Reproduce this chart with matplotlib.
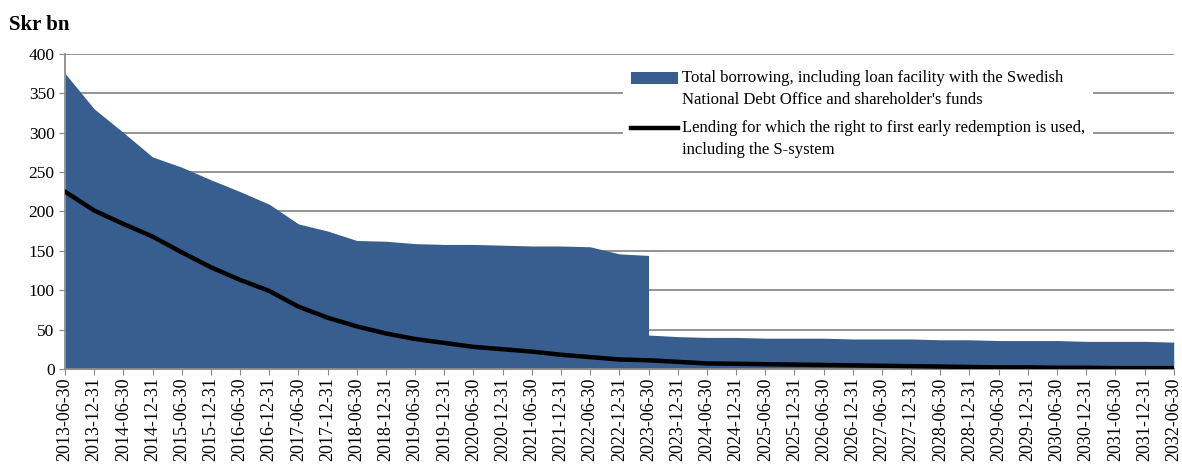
import numpy as np
import matplotlib.pyplot as plt
import matplotlib.patches as mpatches
from matplotlib.lines import Line2D
from matplotlib.legend_handler import HandlerPatch, HandlerLine2D

plt.rcParams['font.family'] = ['Liberation Serif', 'DejaVu Serif']

# half-year dates on the x axis
dates = [f"{y}-{m}" for y in range(2013, 2033) for m in ("06-30", "12-31")][:39]

# total borrowing (area); 2023-06-30 appears twice for the vertical drop
borrow_dates = dates[:21] + [dates[20]] + dates[21:]
borrowing = [375, 330, 300, 269, 256, 240, 225, 209, 184, 175,
             163, 162, 159, 158, 158, 157, 156, 156, 155, 146,
             144, 43, 41, 40, 40, 39, 39, 39, 38, 38,
             38, 37, 37, 36, 36, 36, 35, 35, 35, 34]

lending = [225, 201, 184, 168, 148, 129, 113, 99, 79, 65,
           54, 45, 38, 33, 28, 25, 22, 18, 15, 12,
           11, 9, 7, 6.5, 6, 5.5, 5, 4.5, 4, 3.5,
           3, 2.5, 2, 2, 1.5, 1.5, 1, 1, 1]

idx = {d: i for i, d in enumerate(dates)}
bx = [idx[d] for d in borrow_dates]
lx = np.arange(len(dates))

SHIFT = 8  # points, lifts legend handles to the first text line


class TopPatch(HandlerPatch):
    def create_artists(self, legend, orig, xd, yd, w, h, fs, trans):
        return super().create_artists(legend, orig, xd, yd - SHIFT, w, h, fs, trans)


class TopLine(HandlerLine2D):
    def create_artists(self, legend, orig, xd, yd, w, h, fs, trans):
        return super().create_artists(legend, orig, xd, yd - 2 * SHIFT, w, h, fs, trans)


fig = plt.figure(figsize=(11.82, 4.67), dpi=100)
ax = fig.add_axes([0.055, 0.21, 0.938, 0.675])

blue = '#385D8F'
ax.fill_between(bx, borrowing, 0, color=blue, lw=0, zorder=2)
ax.plot(lx, lending, color='black', lw=3.2, zorder=3)

ax.set_xlim(0, len(dates) - 1)
ax.set_ylim(0, 400)
ax.set_yticks(range(0, 401, 50))
ax.set_xticks(lx)
ax.set_xticklabels(dates, rotation=90, fontsize=13)
ax.tick_params(axis='y', labelsize=12.5, length=4, color='#888888', direction='out')
ax.tick_params(axis='x', length=4, color='#888888', direction='out', pad=2)
ax.yaxis.grid(True, color='#8c8c8c', lw=1.3, zorder=1)
ax.set_axisbelow(True)
for s in ('top', 'right'):
    ax.spines[s].set_visible(False)
for s in ('left', 'bottom'):
    ax.spines[s].set_color('#8c8c8c')
    ax.spines[s].set_linewidth(1.3)

h_area = mpatches.Patch(color=blue, lw=0)
h_line = Line2D([], [], color='black', lw=3.2)
labels = ["Total borrowing, including loan facility with the Swedish\nNational Debt Office and shareholder's funds",
          "Lending for which the right to first early redemption is used,\nincluding the S-system"]
leg = ax.legend([h_area, h_line], labels, loc='upper left', bbox_to_anchor=(0.503, 0.975),
                handler_map={h_area: TopPatch(), h_line: TopLine()},
                frameon=True, fancybox=False, framealpha=1, edgecolor='none',
                fontsize=12, handlelength=2.8, handletextpad=0.25,
                labelspacing=0.7, borderpad=0.5, borderaxespad=0)
for t in leg.get_texts():
    t.set_linespacing(1.5)
leg.set_zorder(5)

fig.text(0.008, 0.935, "Skr bn", fontsize=15, fontweight='bold')

fig.savefig('out.png')
